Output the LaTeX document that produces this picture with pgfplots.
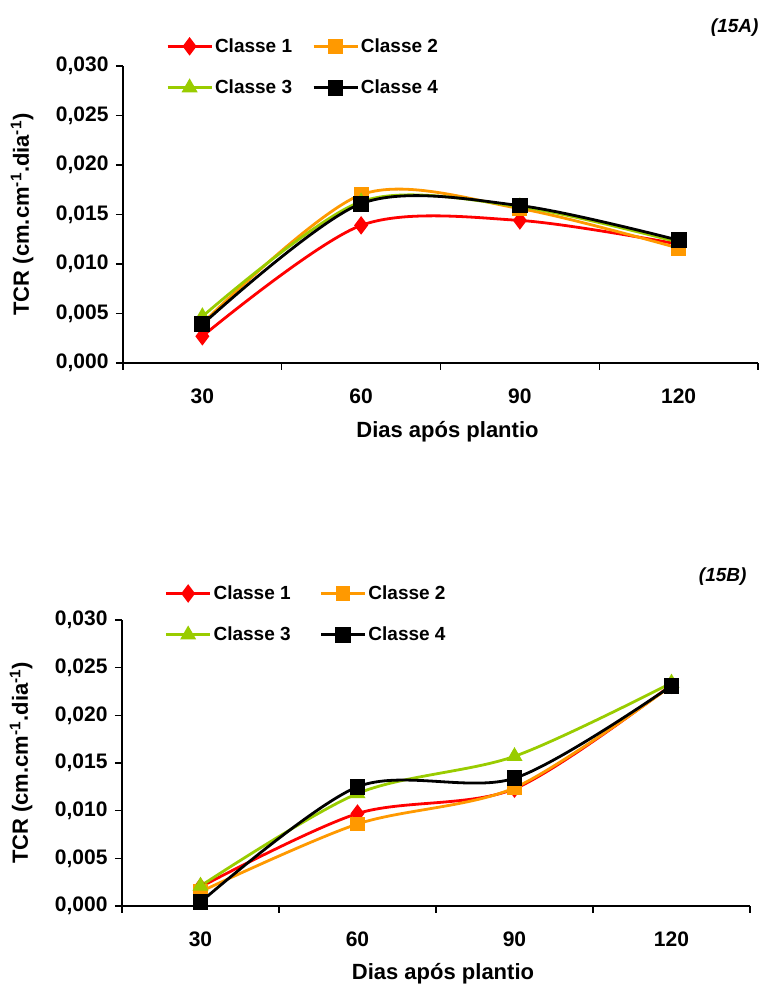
\documentclass[border=0pt]{standalone}
\usepackage{pgfplots}
\pgfplotsset{compat=1.18}
\usepackage{pgfplotstable}
\usepackage{fontspec}
\setmainfont{Liberation Sans}
\definecolor{cA}{HTML}{FF0000}
\definecolor{cB}{HTML}{FF9900}
\definecolor{cC}{HTML}{99CC00}
\newcommand{\ff}{\fontsize{19}{22}\selectfont\bfseries}
\newcommand{\ft}{\fontsize{21}{24}\selectfont\bfseries}
\newcommand{\fl}{\fontsize{22}{25}\selectfont\bfseries}
% x: category centre (0.5 = 30, 1.5 = 60, 2.5 = 90, 3.5 = 120 dias)
\pgfplotstableread{
x c1 c2 c3 c4
0.5 0.0027 0.0040 0.0047 0.0039
1.5 0.0139 0.0170 0.0163 0.0161
2.5 0.0144 0.0156 0.0158 0.0159
3.5 0.0120 0.0116 0.0122 0.0124
}\dataA
\pgfplotstableread{
x c1 c2 c3 c4
0.5 0.0020 0.0015 0.0021 0.0004
1.5 0.0097 0.0086 0.0118 0.0125
2.5 0.0123 0.0124 0.0157 0.0134
3.5 0.0232 0.0231 0.0234 0.0231
}\dataB
\begin{document}
\begin{tikzpicture}
\path[use as bounding box] (0pt,0pt) rectangle (763pt,985pt);
\pgfplotsset{
  panel/.style={
    scale only axis, anchor=origin,
    axis lines=left, axis line style={-, line width=1.1pt},
    xmin=0, xmax=4, ymin=0, ymax=0.03,
    xtick={0.5,1.5,2.5,3.5}, xticklabels={30,60,90,120},
    major x tick style={draw=none},
    minor xtick={0,1,2,3,4},
    ytick={0,0.005,0.01,0.015,0.02,0.025,0.03},
    tick align=outside, tick pos=left,
    tick style={line width=1.1pt, black},
    major tick length=7pt, minor tick length=7pt,
    scaled y ticks=false,
    yticklabel style={xshift=-4pt, /pgf/number format/.cd, fixed, fixed zerofill, precision=3, use comma, assume math mode=true},
    xticklabel style={yshift=-15pt},
    tick label style={font=\ft},
    xlabel={Dias após plantio},
    ylabel={TCR (cm.cm\textsuperscript{-1}.dia\textsuperscript{-1})},
    xlabel style={font=\fl, at={(axis description cs:0.5,0)}, anchor=center, xshift=7pt},
    ylabel style={font=\fl, at={(axis description cs:0,0.5)}, anchor=center, yshift=101pt},
    legend style={anchor=north west, draw=none, fill=none,
      legend columns=2, font=\ff, row sep=22pt},
    legend image code/.code={\draw[line width=2.8pt, mark repeat=2, mark phase=2] plot coordinates {(0pt,0pt) (22pt,0pt) (44pt,0pt)};},
    every axis plot/.append style={line width=2.8pt, smooth, tension=0.5},
  },
  s1/.style={color=cA, mark=diamond*, mark size=7pt, mark options={solid}},
  s2/.style={color=cB, mark=square*, mark size=6pt},
  s3/.style={color=cC, mark=triangle*, mark size=6.5pt},
  s4/.style={color=black, mark=square*, mark size=6.5pt},
}
\begin{axis}[panel, at={(123pt,622pt)}, width=635pt, height=297pt,
  xlabel style={yshift=-69pt},
  legend style={at={(0.063,1.106)}, /tikz/every even column/.append style={column sep=18pt}}]
\addplot[s1] table[x=x, y=c1] {\dataA}; \addlegendentry{Classe 1}
\addplot[s2] table[x=x, y=c2] {\dataA}; \addlegendentry{Classe 2}
\addplot[s3] table[x=x, y=c3] {\dataA}; \addlegendentry{Classe 3}
\addplot[s4] table[x=x, y=c4] {\dataA}; \addlegendentry{Classe 4}
\end{axis}
\begin{axis}[panel, at={(122pt,79pt)}, width=628pt, height=286pt,
  xlabel style={yshift=-68pt},
  legend style={at={(0.063,1.134)}, /tikz/every even column/.append style={column sep=27pt}}]
\addplot[s1] table[x=x, y=c1] {\dataB}; \addlegendentry{Classe 1}
\addplot[s2] table[x=x, y=c2] {\dataB}; \addlegendentry{Classe 2}
\addplot[s3] table[x=x, y=c3] {\dataB}; \addlegendentry{Classe 3}
\addplot[s4] table[x=x, y=c4] {\dataB}; \addlegendentry{Classe 4}
\end{axis}
\node[anchor=east, font=\ff\itshape] at (762pt,957pt) {(15A)};
\node[anchor=east, font=\ff\itshape] at (750pt,408pt) {(15B)};
\end{tikzpicture}
\end{document}
